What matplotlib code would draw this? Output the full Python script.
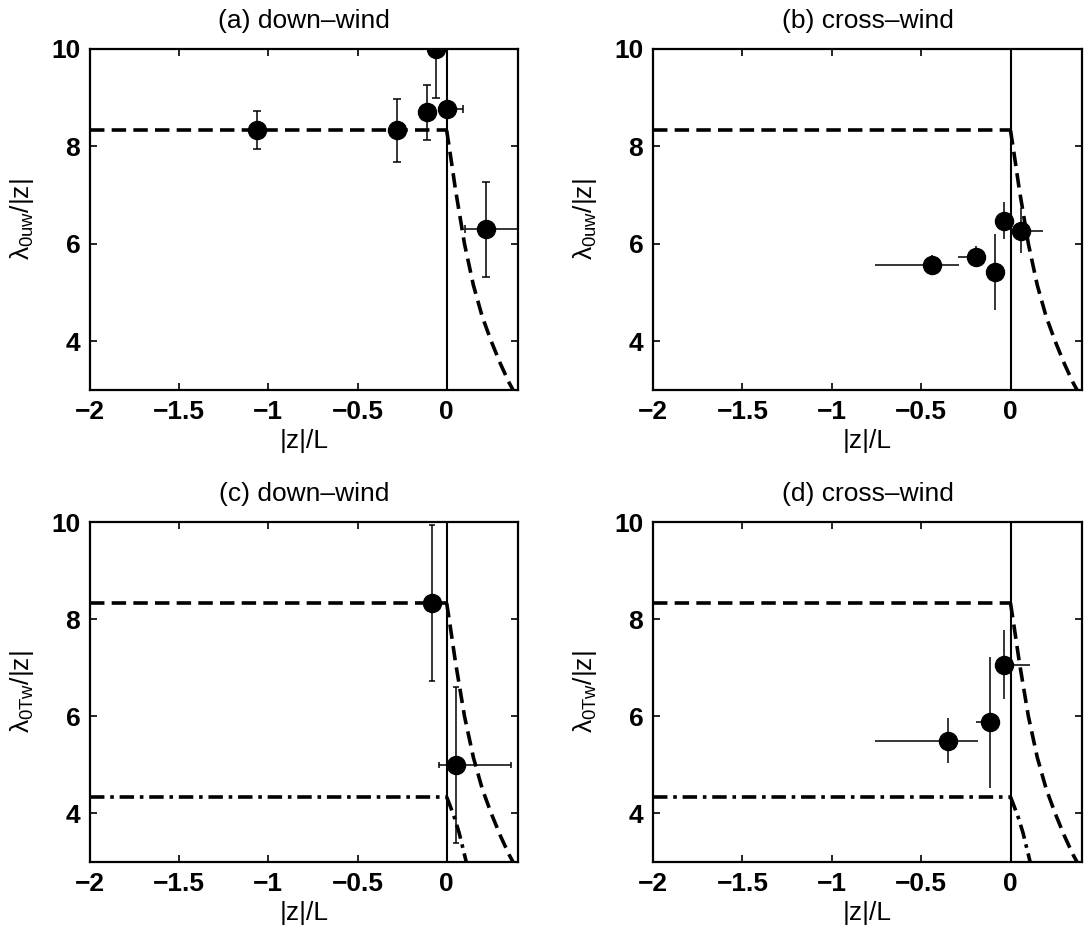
import matplotlib
matplotlib.use("Agg")
import matplotlib.pyplot as plt

plt.rcParams["font.family"] = ["Liberation Sans", "DejaVu Sans"]
plt.rcParams["mathtext.fontset"] = "custom"
plt.rcParams["mathtext.rm"] = "Liberation Sans"
plt.rcParams["mathtext.it"] = "Liberation Sans"

# reference curves
flat_x = [-2.0, 0.0]
flat_y_mom = [8.33, 8.33]
flat_y_heat = [4.34, 4.34]
stable_x = [0.0, 0.02, 0.05, 0.1, 0.15, 0.2, 0.25, 0.3, 0.35, 0.38]
stable_y = [8.33, 7.85, 7.1, 6.0, 5.15, 4.5, 4.0, 3.55, 3.15, 2.95]
heat_x = [0.0, 0.02, 0.045, 0.07, 0.09, 0.11]
heat_y = [4.34, 4.15, 3.9, 3.6, 3.3, 3.0]

# (a) down-wind, momentum
a_x = [-1.065, -0.279, -0.112, -0.06, 0.002, 0.221]
a_y = [8.33, 8.33, 8.70, 10.0, 8.76, 6.30]
a_yerr = [0.39, 0.65, 0.56, 1.0, 0.0, 0.98]
a_xlo = [0.0, 0.0, 0.0, 0.0, 0.0, 0.12]
a_xhi = [0.0, 0.0, 0.0, 0.0, 0.09, 0.20]

# (b) cross-wind, momentum
b_x = [-0.438, -0.191, -0.084, -0.038, 0.056]
b_y = [5.57, 5.74, 5.42, 6.47, 6.27]
b_yerr = [0.21, 0.22, 0.78, 0.38, 0.46]
b_xlo = [0.32, 0.10, 0.0, 0.0, 0.03]
b_xhi = [0.15, 0.056, 0.0, 0.0, 0.127]

# (c) down-wind, heat
c_x = [-0.084, 0.053]
c_y = [8.33, 5.0]
c_yerr = [1.6, 1.6]
c_xlo = [0.0, 0.098]
c_xhi = [0.0, 0.31]

# (d) cross-wind, heat
d_x = [-0.347, -0.112, -0.036]
d_y = [5.50, 5.88, 7.06]
d_yerr = [0.46, 1.35, 0.71]
d_xlo = [0.41, 0.08, 0.0]
d_xhi = [0.167, 0.04, 0.144]

PANELS = [
    ("(a) down\u2013wind", r"$\lambda_{0uw}$/|z|", a_x, a_y, a_yerr, a_xlo, a_xhi, False, 3),
    ("(b) cross\u2013wind", r"$\lambda_{0uw}$/|z|", b_x, b_y, b_yerr, b_xlo, b_xhi, False, 0),
    ("(c) down\u2013wind", r"$\lambda_{0Tw}$/|z|", c_x, c_y, c_yerr, c_xlo, c_xhi, True, 2),
    ("(d) cross\u2013wind", r"$\lambda_{0Tw}$/|z|", d_x, d_y, d_yerr, d_xlo, d_xhi, True, 0),
]

W, H = 1086, 933
BOXES = [(90, 49, 518, 390), (653, 49, 1082, 390), (90, 522, 518, 862), (653, 522, 1082, 862)]
FS = 19

fig = plt.figure(figsize=(W / 100, H / 100), dpi=100)

for (title, ylabel, xs, ys, yerr, xlo, xhi, heat, cap), (l, t, r, b) in zip(PANELS, BOXES):
    ax = fig.add_axes([l / W, (H - b) / H, (r - l) / W, (b - t) / H])
    ax.plot(flat_x, flat_y_mom, "k--", lw=2.6, dashes=(4, 2))
    ax.plot(stable_x, stable_y, "k--", lw=2.6, dashes=(4, 2))
    if heat:
        ax.plot(flat_x, flat_y_heat, "k-.", lw=2.6, dashes=(4, 1.6, 1, 1.6))
        ax.plot(heat_x, heat_y, "k-.", lw=2.6, dashes=(4, 1.6, 1, 1.6))
    ax.axvline(0, color="k", lw=1.5)
    ax.errorbar(xs, ys, yerr=yerr, xerr=[xlo, xhi], fmt="o", color="k",
                ms=13, elinewidth=1.1, capsize=cap, capthick=1.1)
    ax.set_xlim(-2, 0.4)
    ax.set_ylim(3, 10)
    ax.set_xticks([-2, -1.5, -1, -0.5, 0])
    ax.set_xticklabels(["\u22122", "\u22121.5", "\u22121", "\u22120.5", "0"])
    ax.set_yticks([4, 6, 8, 10])
    ax.tick_params(direction="in", top=True, right=True, length=5, width=1.2,
                   labelsize=FS, pad=7)
    for lab in ax.get_xticklabels() + ax.get_yticklabels():
        lab.set_fontweight("bold")
    for sp in ax.spines.values():
        sp.set_linewidth(1.6)
    ax.set_title(title, fontsize=FS, pad=15)
    ax.set_xlabel("|z|/L", fontsize=FS, labelpad=4)
    ax.set_ylabel(ylabel, fontsize=FS, labelpad=11)

fig.savefig("out.png", dpi=100)
